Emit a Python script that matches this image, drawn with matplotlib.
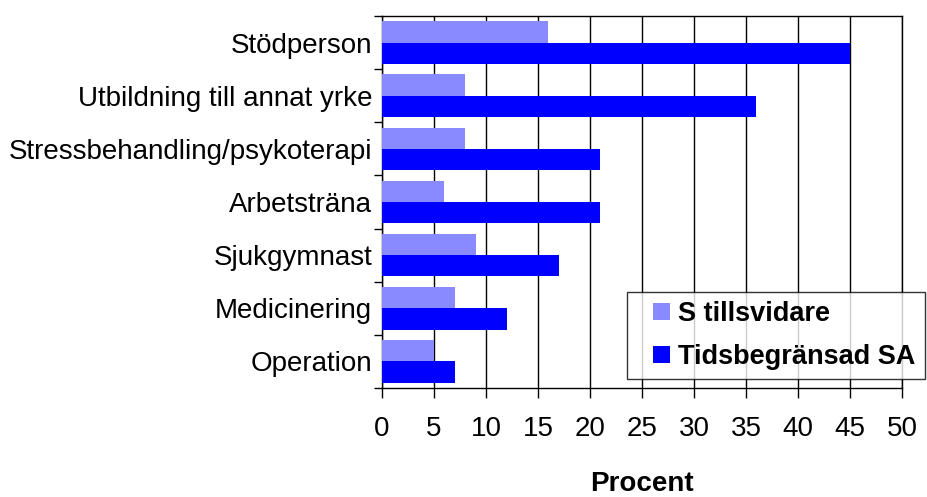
import matplotlib
matplotlib.use("Agg")
import matplotlib.pyplot as plt
from matplotlib.patches import Rectangle
from matplotlib.legend_handler import HandlerPatch
import numpy as np

plt.rcParams['font.family'] = ['Liberation Sans', 'DejaVu Sans']

categories = ["Stödperson", "Utbildning till annat yrke", "Stressbehandling/psykoterapi",
              "Arbetsträna", "Sjukgymnast", "Medicinering", "Operation"]
s_tillsvidare = [16, 8, 8, 6, 9, 7, 5]
tidsbegransad = [45, 36, 21, 21, 17, 12, 7]
series_names = ["S tillsvidare", "Tidsbegränsad SA"]
xticks = list(range(0, 51, 5))

fig = plt.figure(figsize=(9.27, 4.97), dpi=100)
ax = fig.add_axes([382/927, 1-388/497, 520/927, 372/497])

n = len(categories)
y = np.arange(n)[::-1].astype(float)
h = 0.4
b1 = ax.barh(y + h/2, s_tillsvidare, height=h, color='#8a8aff', label=series_names[0], zorder=3)
b2 = ax.barh(y - h/2, tidsbegransad, height=h, color='#0000ff', label=series_names[1], zorder=3)

ax.set_xlim(0, 50)
ax.set_ylim(-0.5, n - 0.5)
ax.set_xticks(xticks)
ax.set_xticklabels([str(t) for t in xticks], fontsize=20)
ax.xaxis.grid(True, color='black', linewidth=1, zorder=0)
ax.set_axisbelow(True)

ax.set_yticks(y)
ax.set_yticklabels(categories, fontsize=20)
ax.set_yticks(np.arange(-0.5, n, 1.0), minor=True)
ax.tick_params(axis='y', which='major', length=0, pad=7)
ax.tick_params(axis='y', which='minor', length=6, width=1, direction='out')
ax.tick_params(axis='x', which='major', length=7, width=1, direction='out', pad=13)

for s in ['top', 'left', 'bottom', 'right']:
    ax.spines[s].set_color('black')
    ax.spines[s].set_linewidth(1)

ax.set_xlabel("Procent", fontsize=20, fontweight='bold', labelpad=21)


class SquareHandler(HandlerPatch):
    def create_artists(self, legend, orig_handle, xdescent, ydescent, width, height,
                       fontsize, trans):
        s = 0.63 * fontsize
        x0 = -xdescent + width - s
        y0 = -ydescent + (height - s) / 2
        p = Rectangle((x0, y0), s, s, facecolor=orig_handle.patches[0].get_facecolor(),
                      edgecolor='none', transform=trans)
        return [p]


leg = fig.legend(handles=[b1, b2], labels=series_names,
                 loc='lower right', bbox_to_anchor=(925/927, 1-379/497),
                 bbox_transform=fig.transFigure, borderaxespad=0,
                 fancybox=False, frameon=True, edgecolor='black',
                 prop={'size': 19.5, 'weight': 'bold'},
                 handler_map={type(b1): SquareHandler()},
                 handlelength=1.25, handleheight=0.7, handletextpad=0.3,
                 borderpad=0.35, labelspacing=0.6)
leg.get_frame().set_linewidth(1)

fig.savefig("out.png", dpi=100)
